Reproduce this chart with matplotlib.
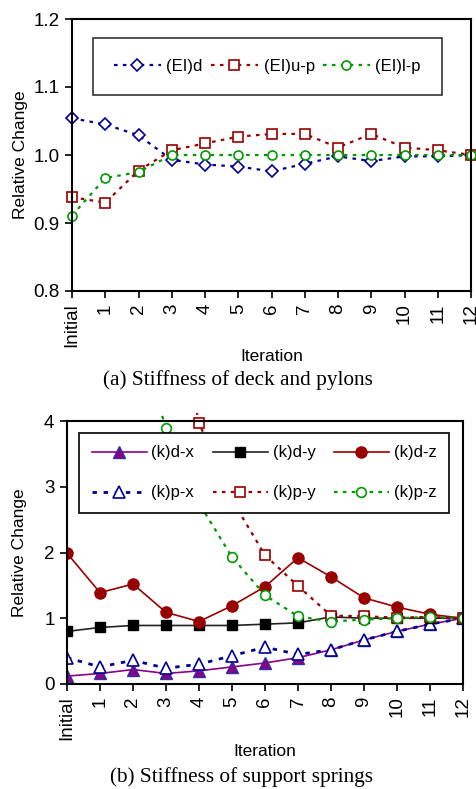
import matplotlib
matplotlib.use("Agg")
from matplotlib import pyplot as plt
from matplotlib.patches import Rectangle

plt.rcParams['font.family'] = ['Liberation Sans', 'DejaVu Sans']

iterations = ['Initial', '1', '2', '3', '4', '5', '6', '7', '8', '9', '10', '11', '12']
x = list(range(len(iterations)))

# (a) deck and pylons
ei_d = [1.054, 1.045, 1.029, 0.993, 0.986, 0.983, 0.976, 0.987, 0.998, 0.991, 0.998, 0.998, 1.0]
ei_up = [0.938, 0.930, 0.977, 1.007, 1.017, 1.027, 1.031, 1.031, 1.011, 1.031, 1.011, 1.007, 1.0]
ei_lp = [0.911, 0.966, 0.975, 1.0, 1.0, 1.0, 1.0, 1.0, 1.0, 1.0, 1.0, 1.0, 1.0]

# (b) support springs
k_dx = [0.12, 0.16, 0.22, 0.16, 0.20, 0.26, 0.32, 0.40, 0.52, 0.67, 0.80, 0.91, 1.0]
k_dy = [0.80, 0.86, 0.89, 0.89, 0.89, 0.89, 0.91, 0.93, 1.02, 1.0, 1.0, 1.0, 1.0]
k_dz = [1.99, 1.39, 1.52, 1.09, 0.95, 1.19, 1.48, 1.92, 1.63, 1.31, 1.17, 1.06, 1.0]
k_px = [0.40, 0.26, 0.36, 0.24, 0.30, 0.43, 0.56, 0.45, 0.52, 0.67, 0.80, 0.91, 1.0]
k_py = [10.0, 9.0, 8.0, 6.5, 3.97, 2.8, 1.96, 1.49, 1.04, 1.03, 1.01, 1.02, 1.0]
k_pz = [8.0, 7.0, 5.5, 3.89, 2.75, 1.93, 1.35, 1.03, 0.95, 0.98, 1.0, 1.02, 1.0]

navy = '#000090'
dred = '#990000'
green = '#009900'
purple = '#8B008B'

fig = plt.figure(figsize=(4.76, 7.89), dpi=100)
W, H = 476.0, 789.0

def style_axes(ax):
    for s in ax.spines.values():
        s.set_linewidth(1.5)
    ax.tick_params(direction='out', length=5, width=1.2, labelsize=13.5, pad=4)
    ax.set_xticks(x)
    ax.set_xticklabels(iterations, rotation=90)
    ax.set_xlim(0, 12)
    ax.set_ylabel('Relative Change', fontsize=12.5)
    ax.set_xlabel('Iteration', fontsize=12.5)

# ---- top chart
ax1 = fig.add_axes([72 / W, 1 - 291 / H, 399 / W, 272 / H])
dot = (0, (1.6, 2.4))
ax1.plot(x, ei_d, color=navy, ls=dot, lw=1.6, marker='D', ms=6, mfc='white',
         mec=navy, mew=1.2, label='(EI)d', clip_on=False)
ax1.plot(x, ei_up, color=dred, ls=dot, lw=1.6, marker='s', ms=7, mfc='white',
         mec=dred, mew=1.2, label='(EI)u-p', clip_on=False)
ax1.plot(x, ei_lp, color=green, ls=dot, lw=1.6, marker='o', ms=6.5, mfc='white',
         mec=green, mew=1.2, label='(EI)l-p', clip_on=False)
ax1.set_ylim(0.8, 1.2)
ax1.set_yticks([0.8, 0.9, 1.0, 1.1, 1.2])
ax1.set_yticklabels(['0.8', '0.9', '1.0', '1.1', '1.2'])
style_axes(ax1)
ax1.yaxis.set_label_coords(-0.11, 0.5)
ax1.xaxis.set_label_coords(0.5, -0.215)
leg1 = ax1.legend(loc='upper left', bbox_to_anchor=(21 / 399, 1 - 19 / 272), ncol=3,
                  fontsize=12, frameon=True, fancybox=False, edgecolor='black',
                  borderaxespad=0, handlelength=2.8, columnspacing=0.5,
                  borderpad=1.25, handletextpad=0.35)
leg1.get_frame().set_linewidth(1.2)

# ---- bottom chart
ax2 = fig.add_axes([67 / W, 1 - 684 / H, 396 / W, 263 / H])
clip = Rectangle((0, 0), 1, 1.03, transform=ax2.transAxes, visible=False)
ax2.add_patch(clip)
lines = []
lines.append(ax2.plot(x, k_dx, color=purple, lw=1.2, marker='^', ms=8, mfc=purple,
                      mec='#3030a0', label='(k)d-x')[0])
lines.append(ax2.plot(x, k_px, color=navy, ls=dot, lw=2.0, marker='^', ms=8, mfc='white',
                      mec=navy, mew=1.2, label='(k)p-x')[0])
lines.append(ax2.plot(x, k_dy, color='#222222', lw=1.2, marker='s', ms=7.5, mfc='black',
                      mec='black', label='(k)d-y')[0])
lines.append(ax2.plot(x, k_py, color=dred, ls=dot, lw=1.6, marker='s', ms=7, mfc='white',
                      mec=dred, mew=1.2, label='(k)p-y')[0])
lines.append(ax2.plot(x, k_dz, color=dred, lw=1.2, marker='o', ms=8, mfc=dred,
                      mec=dred, label='(k)d-z')[0])
lines.append(ax2.plot(x, k_pz, color=green, ls=dot, lw=1.6, marker='o', ms=7, mfc='white',
                      mec=green, mew=1.2, label='(k)p-z')[0])
for ln in lines:
    ln.set_clip_path(clip)
ax2.set_ylim(0, 4)
ax2.set_yticks([0, 1, 2, 3, 4])
style_axes(ax2)
ax2.yaxis.set_label_coords(-0.1, 0.5)
ax2.xaxis.set_label_coords(0.5, -0.23)
leg2 = ax2.legend(loc='upper left', bbox_to_anchor=(12 / 396, 1 - 12 / 263), ncol=3,
                  fontsize=12, frameon=True, fancybox=False, edgecolor='black',
                  framealpha=1, borderaxespad=0, handlelength=3.3, columnspacing=1.1,
                  borderpad=0.75, handletextpad=0.3, labelspacing=1.5)
leg2.get_frame().set_linewidth(1.2)

fig.text(238 / W, 1 - 380 / H, '(a) Stiffness of deck and pylons', ha='center',
         va='center', family='Liberation Serif', fontsize=15.3)
fig.text(242 / W, 1 - 777 / H, '(b) Stiffness of support springs', ha='center',
         va='center', family='Liberation Serif', fontsize=15.3)

fig.savefig('out.png', dpi=100)
